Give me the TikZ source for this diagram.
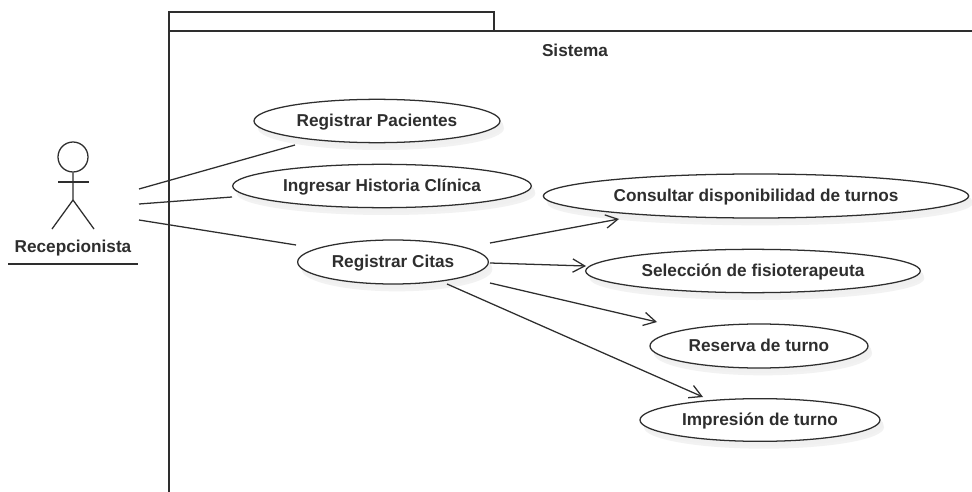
\documentclass[tikz,border=0pt]{standalone}
\usepackage{fontspec}
\setmainfont{Liberation Sans}
\usetikzlibrary{arrows.meta,shapes.geometric,shadows}
\definecolor{ink}{HTML}{2E2E2E}
\tikzset{
  x=0.75pt,y=-0.75pt,
  line/.style={draw=ink,line width=0.95pt},
  usecase/.style={ellipse,line,fill=white,inner sep=0pt,text=ink,
    text height=9.2pt,text depth=0.5pt,
    font=\fontsize{12.9}{15}\selectfont\bfseries,
    general shadow={shadow xshift=3pt,shadow yshift=-5.5pt,fill=black!5,draw=none},
    general shadow={shadow xshift=2.5pt,shadow yshift=-3.5pt,fill=black!6,draw=none}},
  label/.style={font=\fontsize{12.9}{15}\selectfont\bfseries,text=ink,inner sep=0pt},
  assoc/.style={line},
  includes/.style={line,-{Straight Barb[length=9pt,width=10pt,line width=0.95pt]}},
}
\begin{document}
\begin{tikzpicture}
\useasboundingbox (0,0) rectangle (972,492);
\fill[white] (0,0) rectangle (972,492);
% system frame
\draw[line] (169,492) -- (169,12) -- (494,12) -- (494,31);
\draw[line] (169,31) -- (972,31);
\node[label] (sistema) at (575,50) {Sistema};
% actor
\node[circle,line,minimum size=22.5pt,inner sep=0pt] (head) at (73,157) {};
\coordinate (hip) at (73,200);
\coordinate (footl) at (52,229);
\coordinate (footr) at (94,229);
\draw[line] (head.south) -- (hip) -- (footl);
\draw[line] (hip) -- (footr);
\draw[line] (58,182) -- (89,182);
\node[label] (actor) at (73,248.5) {Recepcionista};
\draw[line] (8,264) -- (138,264);
% use cases
\node[usecase,minimum width=184.5pt,minimum height=32.5pt] (pac) at (377,121) {Registrar Pacientes};
\node[usecase,minimum width=224pt,minimum height=32.5pt] (hist) at (382,186) {Ingresar Historia Clínica};
\node[usecase,minimum width=143pt,minimum height=33pt] (citas) at (393,262) {Registrar Citas};
\node[usecase,minimum width=319pt,minimum height=33pt] (cons) at (756,196) {Consultar disponibilidad de turnos};
\node[usecase,minimum width=251pt,minimum height=32.5pt] (sel) at (753,271) {Selección de fisioterapeuta};
\node[usecase,minimum width=163.5pt,minimum height=33pt] (res) at (759,346) {Reserva de turno};
\node[usecase,minimum width=180pt,minimum height=32pt] (imp) at (760,420) {Impresión de turno};
% connector ends, placed relative to the nodes
\coordinate (a1) at ([shift={(66,32)}]head.center);
\coordinate (a2) at ([shift={(66,47)}]head.center);
\coordinate (a3) at ([shift={(66,63)}]head.center);
\coordinate (p1) at ([shift={(-82,24)}]pac.center);
\coordinate (h1) at ([shift={(-150,11)}]hist.center);
\coordinate (c0) at ([shift={(-97,-17)}]citas.center);
\coordinate (c1) at ([shift={(97,-19)}]citas.center);
\coordinate (c2) at ([shift={(97,1)}]citas.center);
\coordinate (c3) at ([shift={(97,21)}]citas.center);
\coordinate (c4) at ([shift={(54,22)}]citas.center);
\coordinate (e1) at ([shift={(-137,23)}]cons.center);
\coordinate (e2) at ([shift={(-167,-5)}]sel.center);
\coordinate (e3) at ([shift={(-102,-24)}]res.center);
\coordinate (e4) at ([shift={(-57,-23)}]imp.center);
% connectors
\draw[assoc] (a1) -- (p1);
\draw[assoc] (a2) -- (h1);
\draw[assoc] (a3) -- (c0);
\draw[includes] (c1) -- (e1);
\draw[includes] (c2) -- (e2);
\draw[includes] (c3) -- (e3);
\draw[includes] (c4) -- (e4);
\end{tikzpicture}
\end{document}
